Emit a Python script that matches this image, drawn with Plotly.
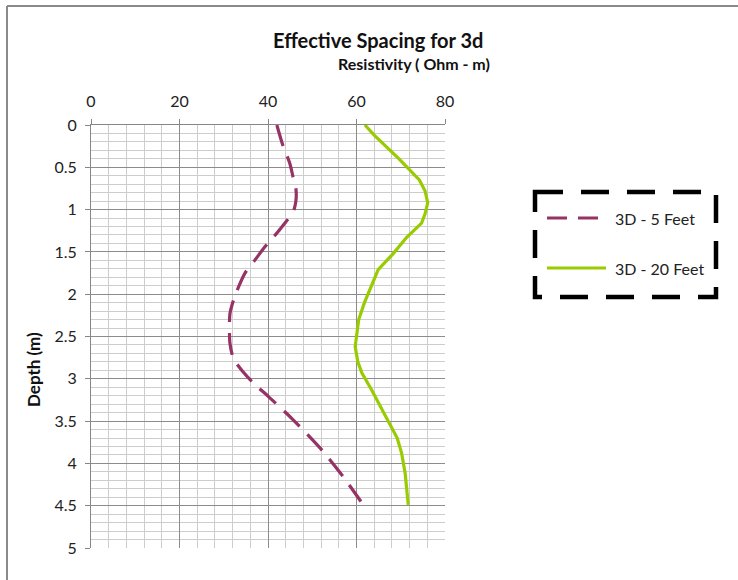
import plotly.graph_objects as go

# Depth (m) and resistivity (Ohm - m) for the two spacings
depth_5ft = [0.0, 0.23, 0.45, 0.6, 0.75, 0.9, 1.04, 1.14, 1.26, 1.44, 1.6, 1.75, 1.92, 2.07, 2.23, 2.44, 2.58, 2.76, 2.92, 3.05, 3.21, 3.47, 3.82, 4.11, 4.45]
res_5ft = [42.0, 43.3, 44.9, 45.6, 46.3, 46.3, 45.6, 44.1, 42.3, 39.3, 37.0, 34.8, 33.3, 32.2, 31.4, 31.3, 31.4, 32.2, 34.4, 36.7, 40.1, 45.4, 51.8, 56.3, 61.0]

depth_20ft = [0.0, 0.12, 0.4, 0.65, 0.78, 0.92, 1.05, 1.16, 1.33, 1.52, 1.71, 1.91, 2.1, 2.3, 2.62, 2.8, 2.93, 3.13, 3.35, 3.53, 3.7, 3.88, 4.12, 4.49]
res_20ft = [61.9, 64.0, 69.6, 74.2, 75.5, 76.1, 75.5, 74.7, 71.3, 68.3, 64.9, 63.4, 61.8, 60.5, 59.7, 60.3, 61.2, 63.4, 65.6, 67.6, 69.2, 70.2, 71.0, 71.7]

series_names = ["3D - 5 Feet", "3D - 20 Feet"]
series_colors = ["#963264", "#99CC00"]

FONT = "Lato"

fig = go.Figure()
fig.add_trace(go.Scatter(
    x=res_5ft, y=depth_5ft, mode="lines", name=series_names[0],
    line=dict(color=series_colors[0], width=3.2, dash="22px,11px", shape="spline", smoothing=0.8),
))
fig.add_trace(go.Scatter(
    x=res_20ft, y=depth_20ft, mode="lines", name=series_names[1],
    line=dict(color=series_colors[1], width=3.2),
))

major_grid = "#8c8c8c"
minor_grid = "#cdcdcd"

fig.update_xaxes(
    side="top", range=[0, 80], dtick=20, tick0=0,
    showgrid=True, gridcolor=major_grid, gridwidth=1,
    minor=dict(dtick=4, showgrid=True, gridcolor=minor_grid, gridwidth=1),
    showline=True, linecolor="#868686", linewidth=1,
    ticks="outside", ticklen=5, tickcolor="#868686",
    tickfont=dict(family=FONT, size=16, color="#222"),
    ticklabelstandoff=6,
    zeroline=False,
)
fig.update_yaxes(
    range=[5, 0], dtick=0.5, tick0=0,
    showgrid=True, gridcolor=major_grid, gridwidth=1,
    minor=dict(dtick=0.1, showgrid=True, gridcolor=minor_grid, gridwidth=1),
    showline=True, linecolor="#868686", linewidth=1,
    ticks="outside", ticklen=5, tickcolor="#868686",
    tickfont=dict(family=FONT, size=16, color="#222"),
    ticklabelstandoff=5,
    zeroline=False,
)

# Plot area spans x 91..445 px and y 125..548 px
L, R, T, B = 91, 445, 125, 548
W, H = R - L, B - T


def px(x):
    return (x - L) / W


def py(y):
    return (B - y) / H


shapes = [
    # chart frame (top and left edges)
    dict(type="line", xref="paper", yref="paper", x0=px(7), x1=px(738), y0=py(6), y1=py(6),
         line=dict(color="#8a8a8a", width=2)),
    dict(type="line", xref="paper", yref="paper", x0=px(7), x1=px(7), y0=py(6), y1=py(580),
         line=dict(color="#8a8a8a", width=2)),
    # legend box
    dict(type="rect", xref="paper", yref="paper", x0=px(535), x1=px(716), y0=py(192), y1=py(297),
         line=dict(color="black", width=4.5, dash="28px,18px")),
    # legend keys
    dict(type="line", xref="paper", yref="paper", x0=px(547), x1=px(599), y0=py(218), y1=py(218),
         line=dict(color=series_colors[0], width=3.2, dash="20px,11px")),
    dict(type="line", xref="paper", yref="paper", x0=px(547), x1=px(606), y0=py(268), y1=py(268),
         line=dict(color=series_colors[1], width=3.2)),
]

annotations = [
    dict(text="<b>Effective Spacing for 3d</b>", xref="paper", yref="paper",
         x=px(378), y=py(40), xanchor="center", yanchor="middle", showarrow=False,
         font=dict(family=FONT, size=20, color="#111")),
    dict(text="<b>Resistivity ( Ohm - m)</b>", xref="paper", yref="paper",
         x=px(492), y=py(64), xanchor="right", yanchor="middle", showarrow=False,
         font=dict(family=FONT, size=16, color="#111")),
    dict(text="<b>Depth (m)</b>", xref="paper", yref="paper",
         x=px(33), y=py(370), xanchor="center", yanchor="middle", showarrow=False, textangle=-90,
         font=dict(family=FONT, size=17, color="#111")),
    dict(text=series_names[0], xref="paper", yref="paper",
         x=px(613), y=py(218), xanchor="left", yanchor="middle", showarrow=False,
         font=dict(family=FONT, size=16, color="#222")),
    dict(text=series_names[1], xref="paper", yref="paper",
         x=px(613), y=py(268), xanchor="left", yanchor="middle", showarrow=False,
         font=dict(family=FONT, size=16, color="#222")),
]

fig.update_layout(
    width=738, height=580,
    margin=dict(l=L, r=738 - R, t=T, b=580 - B, pad=0),
    paper_bgcolor="white", plot_bgcolor="white",
    showlegend=False,
    shapes=shapes, annotations=annotations,
)

fig.write_html("out.html")
